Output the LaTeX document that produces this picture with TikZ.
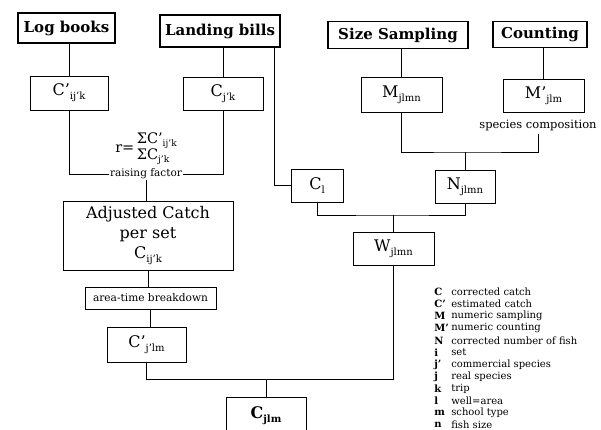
\documentclass[tikz,border=0pt]{standalone}
\usepackage{fontspec}
\setmainfont{DejaVu Serif}
\usetikzlibrary{positioning,calc}
\newcommand{\lowix}[1]{\raisebox{-0.45ex}{\fontsize{10}{10}\selectfont#1}}
\newcommand{\fracix}[1]{\raisebox{-0.4ex}{\fontsize{9}{9}\selectfont#1}}

\begin{document}
\begin{tikzpicture}[x=1pt,y=-1pt,line width=0.6pt,
  srcbox/.style={draw,line width=1.6pt,font=\fontsize{15}{16}\selectfont\bfseries,inner sep=0pt},
  varbox/.style={draw,font=\fontsize{16}{20}\selectfont,inner sep=0pt,align=center},
  note/.style={font=\fontsize{10.5}{11}\selectfont,inner sep=1pt},
  legk/.style={font=\fontsize{10}{11}\selectfont\bfseries,anchor=west,inner sep=0pt},
  legt/.style={font=\fontsize{10}{11}\selectfont,anchor=west,inner sep=0pt}]
  \useasboundingbox (0,0) rectangle (601,430);
  \node[srcbox,minimum width=97,minimum height=30] (logb) at (66.5,28) {Log books};
  \node[srcbox,minimum width=120,minimum height=32] (landb) at (220,31) {Landing bills};
  \node[srcbox,minimum width=140,minimum height=27] (sizes) at (398,35) {Size Sampling};
  \node[srcbox,minimum width=94,minimum height=26] (count) at (540,34.5) {Counting};
  \node[varbox,minimum width=78,minimum height=34] (cp) at (69,93) {C'\lowix{ij'k}};
  \node[varbox,minimum width=80,minimum height=33] (cjk) at (223,93.5) {C\lowix{j'k}};
  \node[varbox,minimum width=81,minimum height=35] (mj) at (401.5,94.5) {M\lowix{jlmn}};
  \node[varbox,minimum width=81,minimum height=33] (mp) at (543.5,95.5) {M'\lowix{jlm}};
  \node[note,font=\fontsize{11.5}{12}\selectfont,inner sep=3pt] (spc) at (538,125) {species composition};
  \node[font=\fontsize{14.5}{12.5}\selectfont,inner sep=0pt] (rfac) at (146,149)
    {r=\,\begin{tabular}{@{}l@{}}ΣC'\fracix{ij'k}\\ΣC\fracix{j'k}\end{tabular}};
  \node[note] (rais) at (146,174) {raising factor};
  \node[varbox,minimum width=52,minimum height=33] (cl) at (317,185.5) {C\lowix{l}};
  \node[varbox,minimum width=60,minimum height=33] (nj) at (465,186.5) {N\lowix{jlmn}};
  \node[varbox,minimum width=170,minimum height=69] (adj) at (148,235.5) {Adjusted Catch\\per set\\C\lowix{ij'k}};
  \node[varbox,minimum width=81,minimum height=33] (w) at (393.5,248.5) {W\lowix{jlmn}};
  \node[varbox,font=\fontsize{10.6}{11}\selectfont,minimum width=131,minimum height=22] (atb) at (150.5,298) {area-time breakdown};
  \node[varbox,minimum width=79,minimum height=35] (cpl) at (146.5,344.5) {C'\lowix{j'lm}};
  \node[varbox,font=\fontsize{16}{20}\selectfont\bfseries,minimum width=80,minimum height=37] (cjlm) at (266,415.5) {C\lowix{\bfseries jlm}};
  \foreach \i/\k/\d in {0/C/corrected catch, 1/C'/estimated catch, 2/M/numeric sampling,
    3/M'/numeric counting, 4/N/corrected number of fish, 5/i/set, 6/j'/commercial species,
    7/j/real species, 8/k/trip, 9/l/well=area, 10/m/school type, 11/n/fish size}
    {\node[legk] (lk\i) at (434,292+12.1*\i) {\k};
     \node[legt] (lt\i) at (451,292+12.1*\i) {\d};}
  \draw (cp.north) -- (cp.north |- logb.south);
  \draw (cjk.north) -- (cjk.north |- landb.south);
  \draw (mj.north) -- (mj.north |- sizes.south);
  \draw (mp.north) -- (mp.north |- count.south);
  \draw ([xshift=-7]landb.south east) |- (cl.west);
  \draw (cp.south) |- (rais.west);
  \draw (cjk.south) |- (rais.east);
  \draw (rais.south) -- (rais.south |- adj.north);
  \draw (adj.south) -- (adj.south |- atb.north);
  \draw (atb.south) -- (atb.south |- cpl.north);
  \coordinate (mjoin) at (nj.north |- 0,152);
  \draw (mj.south) |- (mjoin) -| (spc.south);
  \draw (mjoin) -- (nj.north);
  \coordinate (cjoin) at (w.north |- 0,215);
  \draw (cl.south) |- (cjoin) -| (nj.south);
  \draw (cjoin) -- (w.north);
  \coordinate (wjoin) at (w.south |- 0,379);
  \draw (w.south) -- (wjoin) -| (cpl.south);
  \draw (cjlm.north) -- (cjlm.north |- wjoin);
\end{tikzpicture}
\end{document}
